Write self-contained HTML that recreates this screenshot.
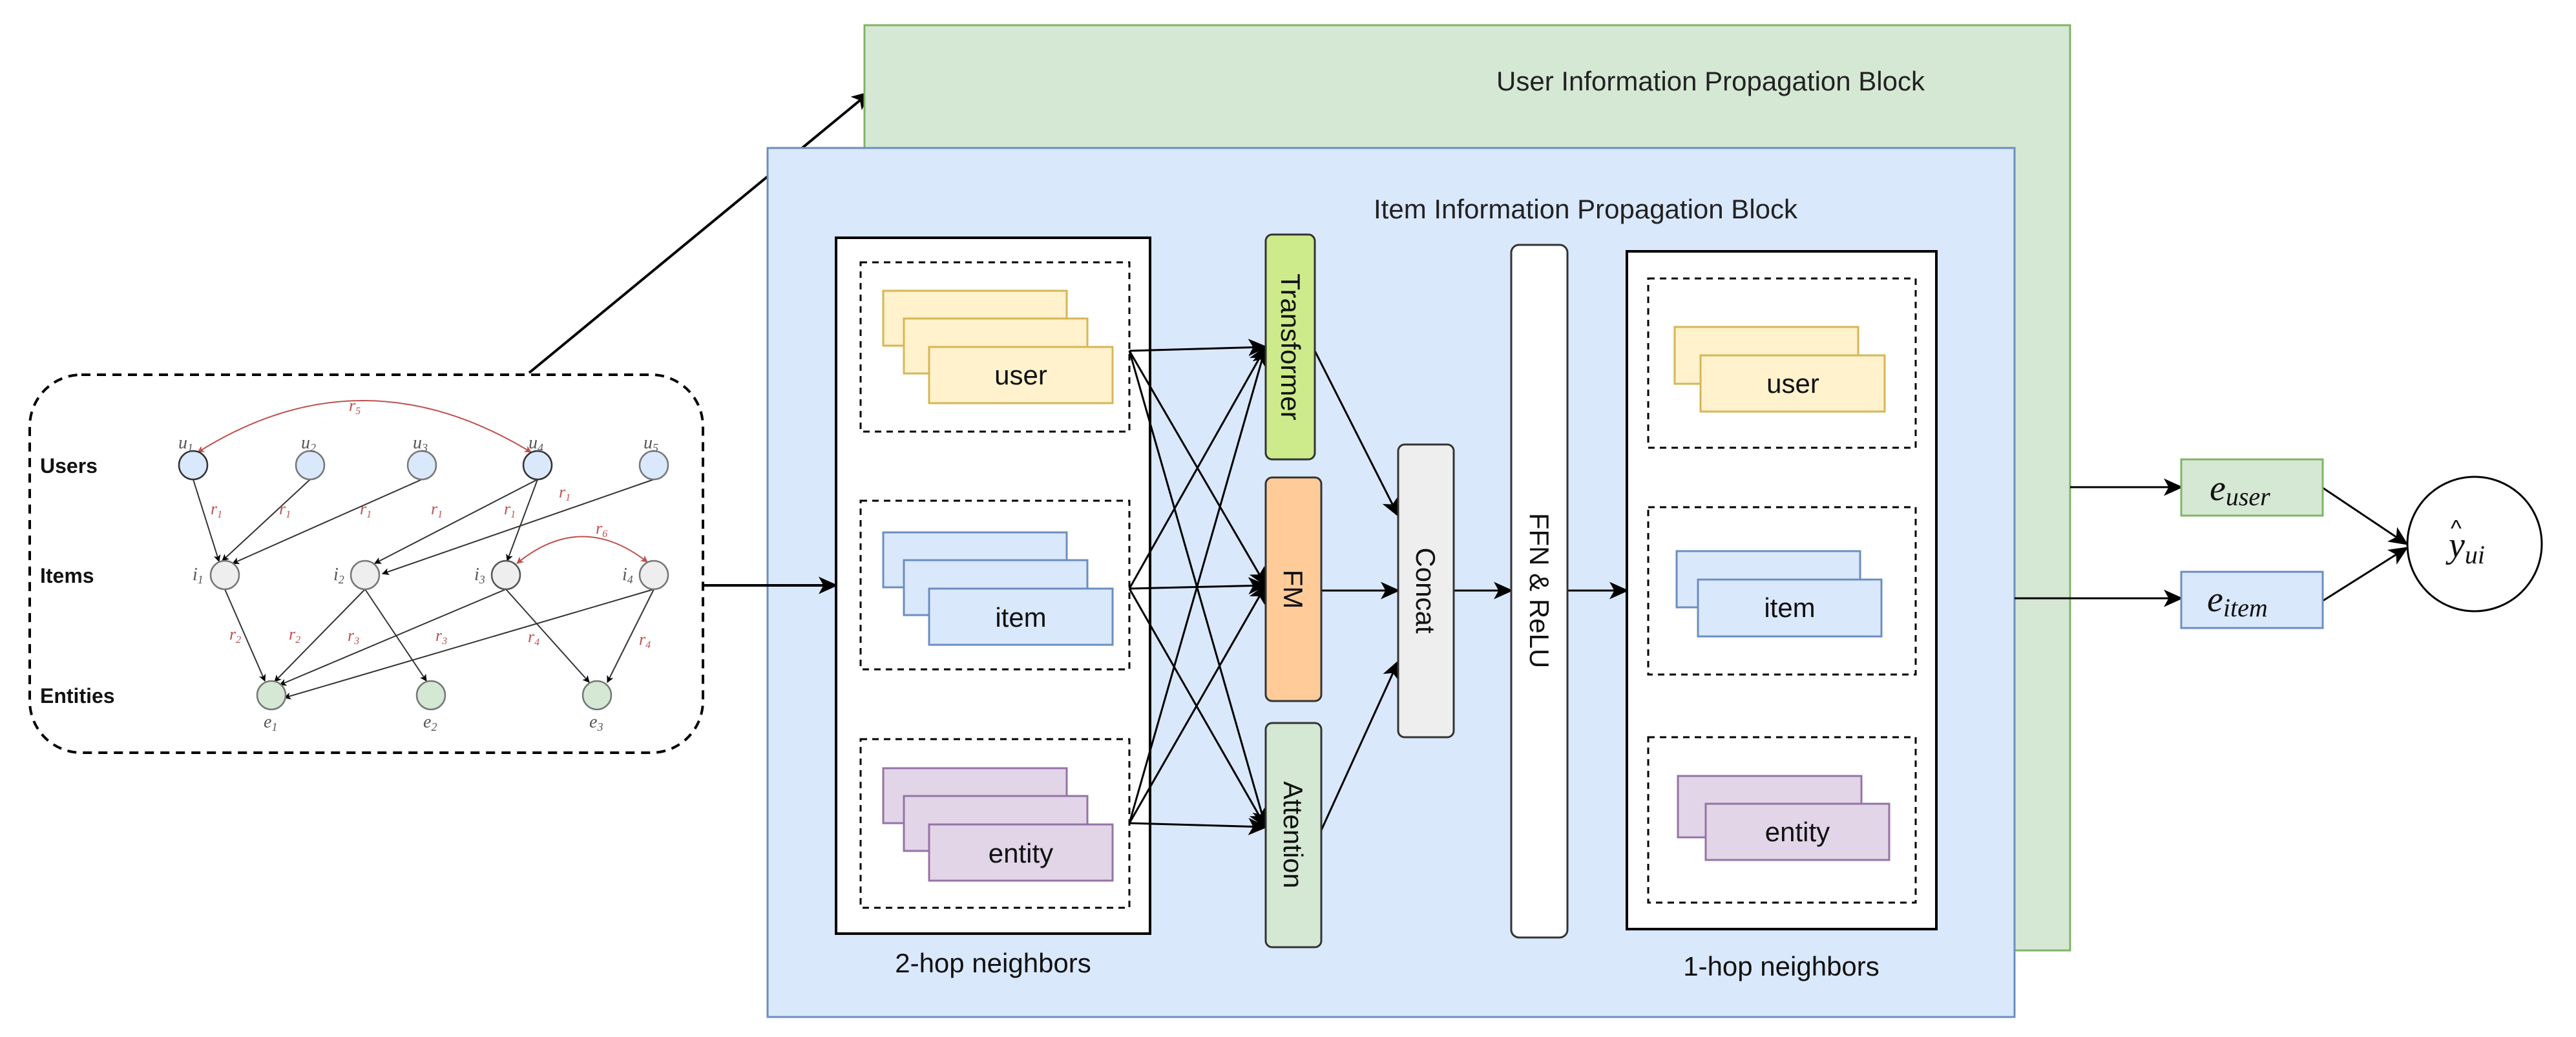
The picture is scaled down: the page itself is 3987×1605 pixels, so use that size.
<!DOCTYPE html>
<html><head><meta charset="utf-8"><style>
html,body{margin:0;padding:0;background:#fff;}
svg{display:block;}
.s{font-family:"Liberation Sans",sans-serif;}
.m{font-family:"Liberation Serif",serif;font-style:italic;}
</style></head><body>
<svg width="3987" height="1605" viewBox="0 0 3987 1605" xmlns="http://www.w3.org/2000/svg">
<defs>
<marker id="a" viewBox="0 0 20 20" refX="18" refY="10" markerWidth="11" markerHeight="11" markerUnits="userSpaceOnUse" orient="auto">
<path d="M0,0 L20,10 L0,20 L5,10 Z" fill="#000"/></marker>
<marker id="A" viewBox="0 0 20 20" refX="18" refY="10" markerWidth="30" markerHeight="30" markerUnits="userSpaceOnUse" orient="auto">
<path d="M0,1 L20,10 L0,19 L5,10 Z" fill="#000"/></marker>
<marker id="r" viewBox="0 0 20 20" refX="18" refY="10" markerWidth="11" markerHeight="11" markerUnits="userSpaceOnUse" orient="auto">
<path d="M0,0 L20,10 L0,20 L5,10 Z" fill="#c0504d"/></marker>
<marker id="rs" viewBox="0 0 20 20" refX="2" refY="10" markerWidth="11" markerHeight="11" markerUnits="userSpaceOnUse" orient="auto">
<path d="M20,0 L0,10 L20,20 L15,10 Z" fill="#c0504d"/></marker>
</defs>

<!-- Left graph -->
<rect x="46" y="580" width="1042" height="585" rx="80" fill="#fff" stroke="#000" stroke-width="4" stroke-dasharray="14,10"/>
<g class="s" font-weight="bold" font-size="32" fill="#111">
<text x="62" y="732">Users</text><text x="62" y="902">Items</text><text x="62" y="1088">Entities</text></g>
<g stroke="#333" stroke-width="2" fill="none" marker-end="url(#a)">
<line x1="299" y1="742" x2="339" y2="869"/>
<line x1="480" y1="742" x2="344" y2="868"/>
<line x1="653" y1="742" x2="360" y2="872"/>
<line x1="832" y1="742" x2="580" y2="872"/>
<line x1="832" y1="742" x2="785" y2="868"/>
<line x1="1012" y1="742" x2="592" y2="888"/>
<line x1="348" y1="912" x2="410" y2="1054"/>
<line x1="565" y1="912" x2="425" y2="1055"/>
<line x1="565" y1="912" x2="660" y2="1054"/>
<line x1="783" y1="912" x2="433" y2="1060"/>
<line x1="783" y1="912" x2="912" y2="1056"/>
<line x1="1012" y1="912" x2="440" y2="1080"/>
<line x1="1012" y1="912" x2="940" y2="1056"/>
</g>
<path d="M306,700 Q560,540 822,700" fill="none" stroke="#c0504d" stroke-width="2" marker-start="url(#rs)" marker-end="url(#r)"/>
<path d="M800,872 Q900,790 1002,870" fill="none" stroke="#c0504d" stroke-width="2" marker-start="url(#rs)" marker-end="url(#r)"/>
<g stroke-width="2.5">
<circle cx="299" cy="720" r="22" fill="#dae8fc" stroke="#333"/>
<circle cx="480" cy="720" r="22" fill="#dae8fc" stroke="#777"/>
<circle cx="653" cy="720" r="22" fill="#dae8fc" stroke="#777"/>
<circle cx="832" cy="720" r="22" fill="#dae8fc" stroke="#333"/>
<circle cx="1012" cy="720" r="22" fill="#dae8fc" stroke="#777"/>
<circle cx="348" cy="890" r="22" fill="#eee" stroke="#777"/>
<circle cx="565" cy="890" r="22" fill="#eee" stroke="#777"/>
<circle cx="783" cy="890" r="22" fill="#eee" stroke="#555"/>
<circle cx="1012" cy="890" r="22" fill="#eee" stroke="#777"/>
<circle cx="420" cy="1076" r="22" fill="#d5e8d4" stroke="#777"/>
<circle cx="667" cy="1076" r="22" fill="#d5e8d4" stroke="#777"/>
<circle cx="924" cy="1076" r="22" fill="#d5e8d4" stroke="#777"/>
</g>
<g class="m" font-size="28" fill="#555">
<text x="276" y="694">u<tspan font-size="18" dy="5">1</tspan></text>
<text x="466" y="694">u<tspan font-size="18" dy="5">2</tspan></text>
<text x="639" y="694">u<tspan font-size="18" dy="5">3</tspan></text>
<text x="818" y="694">u<tspan font-size="18" dy="5">4</tspan></text>
<text x="996" y="694">u<tspan font-size="18" dy="5">5</tspan></text>
<text x="298" y="898">i<tspan font-size="18" dy="5">1</tspan></text>
<text x="516" y="898">i<tspan font-size="18" dy="5">2</tspan></text>
<text x="734" y="898">i<tspan font-size="18" dy="5">3</tspan></text>
<text x="963" y="898">i<tspan font-size="18" dy="5">4</tspan></text>
<text x="408" y="1126">e<tspan font-size="18" dy="5">1</tspan></text>
<text x="655" y="1126">e<tspan font-size="18" dy="5">2</tspan></text>
<text x="912" y="1126">e<tspan font-size="18" dy="5">3</tspan></text>
</g>
<g class="m" font-size="26" fill="#c0504d">
<text x="540" y="636">r<tspan font-size="16" dy="5">5</tspan></text>
<text x="922" y="826">r<tspan font-size="16" dy="5">6</tspan></text>
<text x="326" y="796">r<tspan font-size="16" dy="5">1</tspan></text>
<text x="432" y="796">r<tspan font-size="16" dy="5">1</tspan></text>
<text x="557" y="796">r<tspan font-size="16" dy="5">1</tspan></text>
<text x="667" y="796">r<tspan font-size="16" dy="5">1</tspan></text>
<text x="780" y="796">r<tspan font-size="16" dy="5">1</tspan></text>
<text x="865" y="770">r<tspan font-size="16" dy="5">1</tspan></text>
<text x="355" y="990">r<tspan font-size="16" dy="5">2</tspan></text>
<text x="447" y="990">r<tspan font-size="16" dy="5">2</tspan></text>
<text x="538" y="992">r<tspan font-size="16" dy="5">3</tspan></text>
<text x="674" y="992">r<tspan font-size="16" dy="5">3</tspan></text>
<text x="817" y="994">r<tspan font-size="16" dy="5">4</tspan></text>
<text x="989" y="998">r<tspan font-size="16" dy="5">4</tspan></text>
</g>
<line x1="819" y1="577" x2="1346" y2="143" stroke="#000" stroke-width="4" marker-end="url(#A)"/>

<!-- Blocks -->
<rect x="1338" y="39" width="1866" height="1432" fill="#d5e8d4" stroke="#82b366" stroke-width="3"/>
<text class="s" x="2316" y="140" font-size="42" fill="#222">User Information Propagation Block</text>
<rect x="1188" y="229" width="1930" height="1345" fill="#dae8fc" stroke="#6c8ebf" stroke-width="3"/>
<text class="s" x="2126" y="338" font-size="42" fill="#222">Item Information Propagation Block</text>
<line x1="1088" y1="906" x2="1294" y2="906" stroke="#000" stroke-width="4" marker-end="url(#A)"/>

<!-- 2-hop -->
<rect x="1294" y="368" width="486" height="1077" fill="#fff" stroke="#000" stroke-width="4"/>
<g fill="none" stroke="#000" stroke-width="3" stroke-dasharray="10,8">
<rect x="1332" y="406" width="416" height="262"/>
<rect x="1332" y="775" width="416" height="261"/>
<rect x="1332" y="1144" width="416" height="261"/>
</g>
<g stroke-width="3">
<g fill="#fff2cc" stroke="#d6b656">
<rect x="1367" y="450" width="284" height="85"/><rect x="1399" y="493" width="284" height="85"/><rect x="1438" y="537" width="284" height="87"/></g>
<g fill="#dae8fc" stroke="#6c8ebf">
<rect x="1367" y="824" width="284" height="85"/><rect x="1399" y="867" width="284" height="85"/><rect x="1438" y="911" width="284" height="87"/></g>
<g fill="#e1d5e7" stroke="#9673a6">
<rect x="1367" y="1189" width="284" height="85"/><rect x="1399" y="1232" width="284" height="85"/><rect x="1438" y="1276" width="284" height="87"/></g>
</g>
<g class="s" font-size="42" fill="#111" text-anchor="middle">
<text x="1580" y="595">user</text><text x="1580" y="970">item</text><text x="1580" y="1335">entity</text>
<text x="1537" y="1505">2-hop neighbors</text>
</g>

<!-- cross arrows -->
<g stroke="#000" stroke-width="3" fill="none" marker-end="url(#A)">
<line x1="1748" y1="543" x2="1959" y2="537"/>
<line x1="1748" y1="543" x2="1959" y2="906"/>
<line x1="1748" y1="543" x2="1959" y2="1280"/>
<line x1="1748" y1="911" x2="1959" y2="537"/>
<line x1="1748" y1="911" x2="1959" y2="906"/>
<line x1="1748" y1="911" x2="1959" y2="1280"/>
<line x1="1748" y1="1274" x2="1959" y2="537"/>
<line x1="1748" y1="1274" x2="1959" y2="906"/>
<line x1="1748" y1="1274" x2="1959" y2="1280"/>
<line x1="2035" y1="543" x2="2164" y2="798"/>
<line x1="2045" y1="914" x2="2164" y2="914"/>
<line x1="2045" y1="1285" x2="2164" y2="1024"/>
<line x1="2250" y1="914" x2="2339" y2="914"/>
<line x1="2426" y1="914" x2="2518" y2="914"/>
<line x1="3204" y1="754" x2="3376" y2="754"/>
<line x1="3118" y1="926" x2="3376" y2="926"/>
<line x1="3595" y1="755" x2="3725" y2="842"/>
<line x1="3595" y1="930" x2="3725" y2="848"/>
</g>

<!-- modules -->
<g stroke="#333" stroke-width="3">
<rect x="1959" y="363" width="76" height="348" rx="10" fill="#cdeb8b"/>
<rect x="1959" y="739" width="86" height="346" rx="10" fill="#ffcc99"/>
<rect x="1959" y="1119" width="86" height="347" rx="10" fill="#d5e8d4"/>
<rect x="2164" y="688" width="86" height="453" rx="10" fill="#eeeeee"/>
<rect x="2339" y="379" width="87" height="1072" rx="12" fill="#fff"/>
</g>
<g class="s" font-size="42" fill="#111" text-anchor="middle">
<text transform="translate(1983,537) rotate(90)">Transformer</text>
<text transform="translate(1987,912) rotate(90)">FM</text>
<text transform="translate(1987,1292) rotate(90)">Attention</text>
<text transform="translate(2192,914) rotate(90)">Concat</text>
<text transform="translate(2368,914) rotate(90)">FFN &amp; ReLU</text>
</g>

<!-- 1-hop -->
<rect x="2518" y="389" width="479" height="1049" fill="#fff" stroke="#000" stroke-width="4"/>
<g fill="none" stroke="#000" stroke-width="3" stroke-dasharray="10,8">
<rect x="2551" y="431" width="414" height="262"/>
<rect x="2551" y="785" width="414" height="259"/>
<rect x="2551" y="1141" width="414" height="256"/>
</g>
<g stroke-width="3">
<rect x="2592" y="506" width="284" height="88" fill="#fff2cc" stroke="#d6b656"/>
<rect x="2632" y="550" width="285" height="87" fill="#fff2cc" stroke="#d6b656"/>
<rect x="2595" y="853" width="284" height="87" fill="#dae8fc" stroke="#6c8ebf"/>
<rect x="2628" y="897" width="284" height="88" fill="#dae8fc" stroke="#6c8ebf"/>
<rect x="2597" y="1201" width="284" height="95" fill="#e1d5e7" stroke="#9673a6"/>
<rect x="2640" y="1244" width="284" height="87" fill="#e1d5e7" stroke="#9673a6"/>
</g>
<g class="s" font-size="42" fill="#111" text-anchor="middle">
<text x="2775" y="608">user</text><text x="2770" y="955">item</text><text x="2782" y="1302">entity</text>
<text x="2757" y="1510">1-hop neighbors</text>
</g>

<!-- outputs -->
<rect x="3376" y="711" width="219" height="87" fill="#d5e8d4" stroke="#82b366" stroke-width="3"/>
<rect x="3376" y="885" width="219" height="87" fill="#dae8fc" stroke="#6c8ebf" stroke-width="3"/>
<g class="m" fill="#111">
<text x="3420" y="774" font-size="56">e<tspan font-size="40" dy="8">user</tspan></text>
<text x="3416" y="946" font-size="56">e<tspan font-size="40" dy="8">item</tspan></text>
</g>
<circle cx="3830" cy="842" r="104" fill="#fff" stroke="#000" stroke-width="3"/>
<text class="m" x="3790" y="862" font-size="56" fill="#111">y<tspan font-size="40" dy="10">ui</tspan></text>
<text class="s" x="3793" y="830" font-size="36" fill="#111">^</text>
</svg>
</body></html>
